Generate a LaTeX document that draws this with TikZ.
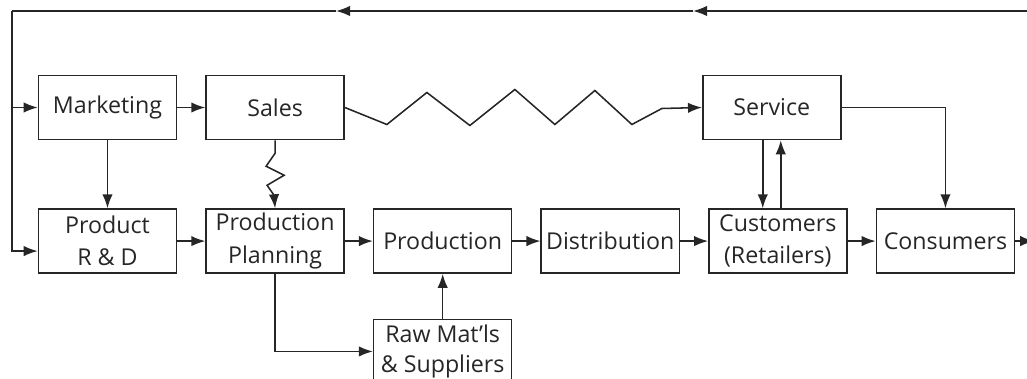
\documentclass[tikz,border=0pt]{standalone}
\usepackage{fontspec}
\setmainfont{Open Sans}
\usetikzlibrary{positioning, arrows.meta, calc}

\begin{document}
\begin{tikzpicture}[
  x=0.025cm, y=0.025cm,
  node distance=1.7cm and 0.7cm,
  block/.style={draw=black!85, line width=1.1pt, minimum width=3.45cm, minimum height=1.6cm, inner sep=0pt, align=center, text=black!85, font=\fontsize{16.5}{23}\selectfont},
  arr/.style={-{Latex[length=3.5mm, width=2.6mm]}, line width=1.1pt, draw=black!85},
  wire/.style={line width=1.1pt, draw=black!85}
]
\useasboundingbox (0,0) rectangle (1027,-379);

\node[block] (mkt) at (107.5,-107.5) {Marketing};
\node[block, right=of mkt] (sales) {Sales};
\node[block, right=8.925cm of sales] (svc) {Service};

\node[block, below=of mkt] (rnd) {Product\\R \& D};
\node[block, right=of rnd] (pp) {Production\\Planning};
\node[block, right=of pp] (prod) {Production};
\node[block, right=of prod] (dist) {Distribution};
\node[block, right=of dist] (cust) {Customers\\(Retailers)};
\node[block, right=of cust] (cons) {Consumers};
\node[block, below=1.12cm of prod, font=\fontsize{16.5}{22}\selectfont] (raw) {Raw Mat'ls\\\& Suppliers};

\coordinate (fbR) at (1027,-11);
\coordinate (fbA) at (693,-11);
\coordinate (fbB) at (336,-11);
\coordinate (fbL) at (12,-11);
\coordinate (out) at ($(cons.east)+(19,0)$);
\coordinate (svcD) at ($(svc.south)+(-9,0)$);
\coordinate (svcU) at ($(svc.south)+(9,0)$);

\draw[arr] (fbR) -- (fbA);
\draw[arr] (fbA) -- (fbB);
\draw[wire] (fbB) -- (fbL);
\draw[arr] (fbL |- mkt.west) -- (mkt.west);
\draw[arr] (fbL) |- ($(rnd.west)+(0,-10)$);

\draw[arr] (mkt) -- (sales);
\draw[arr] (mkt) -- (rnd);
\draw[arr] (sales.east) -- ++(42,-17) -- ++(40,32) -- ++(43,-33) -- ++(45,36)
  -- ++(40,-35) -- ++(40,34) -- ++(37,-34) -- ++(30,16) -- (svc.west);
\draw[arr] (sales.south) -- ++(0,-13) -- ++(-9,-13) -- ++(18,-9) -- ++(-17,-10)
  -- ++(7,-10) -- (pp.north);

\draw[arr] (rnd) -- (pp);
\draw[arr] (pp) -- (prod);
\draw[arr] (prod) -- (dist);
\draw[arr] (dist) -- (cust);
\draw[arr] (cust) -- (cons);
\draw[arr] (cons) -- (out);

\draw[arr] (pp.south) |- (raw.west);
\draw[arr] (raw) -- (prod);

\draw[arr] (svcD) -- (svcD |- cust.north);
\draw[arr] (svcU |- cust.north) -- (svcU);
\draw[arr] (svc.east) -| (cons.north);
\end{tikzpicture}
\end{document}
